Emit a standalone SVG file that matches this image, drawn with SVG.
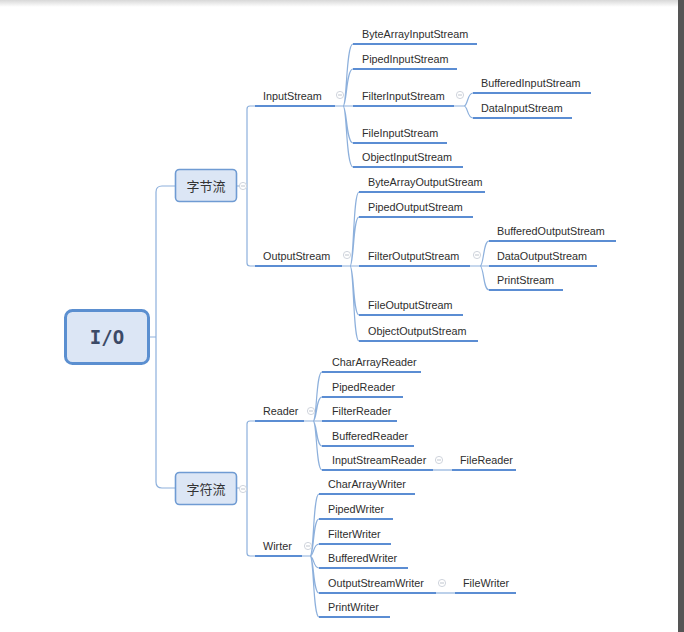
<svg xmlns="http://www.w3.org/2000/svg" width="684" height="632" viewBox="0 0 684 632">
<defs>
<linearGradient id="topShade" x1="0" y1="0" x2="0" y2="1">
<stop offset="0" stop-color="#d8d8d8"/>
<stop offset="1" stop-color="#ffffff"/>
</linearGradient>
</defs>
<style>
.c{fill:none;stroke:#8db0dc;stroke-width:1.2}
.u{stroke:#5b8dd3;stroke-width:2.2;stroke-linecap:butt}
.t{font-family:"Liberation Sans",Arial,sans-serif;font-size:10.8px;fill:#2e2e2e}
.cn{font-family:"Noto Sans CJK SC","Noto Sans",sans-serif;font-size:13px;fill:#333333;text-anchor:middle}
.box{fill:#dce6f5;stroke:#6f9bd3;stroke-width:1.6}
.tog{fill:#ffffff;stroke:#c9cfd8;stroke-width:0.9}
.tm{stroke:#b8bec8;stroke-width:0.9}
</style>
<rect width="684" height="632" fill="#ffffff"/>
<rect width="684" height="7" fill="url(#topShade)"/>
<rect x="678" y="0" width="6" height="632" fill="#555555"/>

<g id="connectors">
<path class="c" d="M149 337 H156 M175 186 H162 Q156 186 156 192 V482 Q156 488 162 488 H175"/>
<path class="c" d="M237 186 H247 M255 106 H250 Q247 106 247 109 V263 Q247 266 250 266 H255"/>
<path class="c" d="M237 488 H247 M255 421 H250 Q247 421 247 424 V553 Q247 556 250 556 H255"/>
<path class="c" d="M335 106 H343 M343 106 C347 106 346 44 353 44 M343 106 C347 106 346 69 353 69 M343 106 H353 M343 106 C347 106 346 143 353 143 M343 106 C347 106 346 167 353 167"/>
<path class="c" d="M454 106 H464 M464 106 C468 106 467 93 473 93 M464 106 C468 106 467 118 473 118"/>
<path class="c" d="M342 266 H350 M350 266 C354 266 353 192 359 192 M350 266 C354 266 353 217 359 217 M350 266 H359 M350 266 C354 266 353 315 359 315 M350 266 C354 266 353 341 359 341"/>
<path class="c" d="M470 266 H480 M480 266 C484 266 483 241 489 241 M480 266 H489 M480 266 C484 266 483 290 489 290"/>
<path class="c" d="M304 421 H313 M313 421 C317 421 316 372 322 372 M313 421 C317 421 316 397 322 397 M313 421 H322 M313 421 C317 421 316 446 322 446 M313 421 C317 421 316 470 322 470"/>
<path class="c" d="M433 470 H452"/>
<path class="c" d="M302 556 H310 M310 556 C314 556 313 494 319 494 M310 556 C314 556 313 519 319 519 M310 556 C314 556 313 544 319 544 M310 556 C314 556 313 568 319 568 M310 556 C314 556 313 593 319 593 M310 556 C314 556 313 617 319 617"/>
<path class="c" d="M436 593 H455"/>
</g>

<g id="n-io">
<rect x="65.5" y="310.5" width="83" height="53" rx="7" fill="#dce6f5" stroke="#5b8fd0" stroke-width="3"/>
<text x="107" y="344" text-anchor="middle" font-family="DejaVu Sans Mono,monospace" font-weight="bold" font-size="19" fill="#3b4a66">I/O</text>
</g>

<g id="n-byte">
<rect class="box" x="175.5" y="169.5" width="61" height="32" rx="4"/>
<text class="cn" x="206" y="191">字节流</text>
</g>
<g id="n-char">
<rect class="box" x="175.5" y="472.5" width="61" height="32" rx="4"/>
<text class="cn" x="206" y="494">字符流</text>
</g>

<g id="toggles">
<circle class="tog" cx="243" cy="186" r="3.6"/><line class="tm" x1="241" y1="186" x2="245" y2="186"/>
<circle class="tog" cx="243" cy="489" r="3.6"/><line class="tm" x1="241" y1="489" x2="245" y2="489"/>
<circle class="tog" cx="340" cy="95" r="3.6"/><line class="tm" x1="338" y1="95" x2="342" y2="95"/>
<circle class="tog" cx="460" cy="95" r="3.6"/><line class="tm" x1="458" y1="95" x2="462" y2="95"/>
<circle class="tog" cx="347" cy="255" r="3.6"/><line class="tm" x1="345" y1="255" x2="349" y2="255"/>
<circle class="tog" cx="477" cy="255" r="3.6"/><line class="tm" x1="475" y1="255" x2="479" y2="255"/>
<circle class="tog" cx="311" cy="411" r="3.6"/><line class="tm" x1="309" y1="411" x2="313" y2="411"/>
<circle class="tog" cx="439" cy="460" r="3.6"/><line class="tm" x1="437" y1="460" x2="441" y2="460"/>
<circle class="tog" cx="308" cy="546" r="3.6"/><line class="tm" x1="306" y1="546" x2="310" y2="546"/>
<circle class="tog" cx="442" cy="583" r="3.6"/><line class="tm" x1="440" y1="583" x2="444" y2="583"/>
</g>

<g id="n-inputstream"><line class="u" x1="255" y1="106" x2="335" y2="106"/><text class="t" x="263" y="100">InputStream</text></g>
<g id="n-bytearrayinputstream"><line class="u" x1="353" y1="44" x2="477" y2="44"/><text class="t" x="362" y="38">ByteArrayInputStream</text></g>
<g id="n-pipedinputstream"><line class="u" x1="353" y1="69" x2="457" y2="69"/><text class="t" x="362" y="63">PipedInputStream</text></g>
<g id="n-filterinputstream"><line class="u" x1="353" y1="106" x2="454" y2="106"/><text class="t" x="362" y="100">FilterInputStream</text></g>
<g id="n-fileinputstream"><line class="u" x1="353" y1="143" x2="447" y2="143"/><text class="t" x="362" y="137">FileInputStream</text></g>
<g id="n-objectinputstream"><line class="u" x1="353" y1="167" x2="463" y2="167"/><text class="t" x="362" y="161">ObjectInputStream</text></g>
<g id="n-bufferedinputstream"><line class="u" x1="473" y1="93" x2="591" y2="93"/><text class="t" x="481" y="87">BufferedInputStream</text></g>
<g id="n-datainputstream"><line class="u" x1="473" y1="118" x2="572" y2="118"/><text class="t" x="481" y="112">DataInputStream</text></g>

<g id="n-outputstream"><line class="u" x1="255" y1="266" x2="342" y2="266"/><text class="t" x="263" y="260">OutputStream</text></g>
<g id="n-bytearrayoutputstream"><line class="u" x1="359" y1="192" x2="485" y2="192"/><text class="t" x="368" y="186">ByteArrayOutputStream</text></g>
<g id="n-pipedoutputstream"><line class="u" x1="359" y1="217" x2="473" y2="217"/><text class="t" x="368" y="211">PipedOutputStream</text></g>
<g id="n-filteroutputstream"><line class="u" x1="359" y1="266" x2="470" y2="266"/><text class="t" x="368" y="260">FilterOutputStream</text></g>
<g id="n-fileoutputstream"><line class="u" x1="359" y1="315" x2="463" y2="315"/><text class="t" x="368" y="309">FileOutputStream</text></g>
<g id="n-objectoutputstream"><line class="u" x1="359" y1="341" x2="478" y2="341"/><text class="t" x="368" y="335">ObjectOutputStream</text></g>
<g id="n-bufferedoutputstream"><line class="u" x1="489" y1="241" x2="616" y2="241"/><text class="t" x="497" y="235">BufferedOutputStream</text></g>
<g id="n-dataoutputstream"><line class="u" x1="489" y1="266" x2="597" y2="266"/><text class="t" x="497" y="260">DataOutputStream</text></g>
<g id="n-printstream"><line class="u" x1="489" y1="290" x2="563" y2="290"/><text class="t" x="497" y="284">PrintStream</text></g>

<g id="n-reader"><line class="u" x1="255" y1="421" x2="304" y2="421"/><text class="t" x="263" y="415">Reader</text></g>
<g id="n-chararrayreader"><line class="u" x1="322" y1="372" x2="421" y2="372"/><text class="t" x="332" y="366">CharArrayReader</text></g>
<g id="n-pipedreader"><line class="u" x1="322" y1="397" x2="403" y2="397"/><text class="t" x="332" y="391">PipedReader</text></g>
<g id="n-filterreader"><line class="u" x1="322" y1="421" x2="397" y2="421"/><text class="t" x="332" y="415">FilterReader</text></g>
<g id="n-bufferedreader"><line class="u" x1="322" y1="446" x2="414" y2="446"/><text class="t" x="332" y="440">BufferedReader</text></g>
<g id="n-inputstreamreader"><line class="u" x1="322" y1="470" x2="433" y2="470"/><text class="t" x="332" y="464">InputStreamReader</text></g>
<g id="n-filereader"><line class="u" x1="452" y1="470" x2="516" y2="470"/><text class="t" x="460" y="464">FileReader</text></g>

<g id="n-writer"><line class="u" x1="255" y1="556" x2="302" y2="556"/><text class="t" x="263" y="550">Wirter</text></g>
<g id="n-chararraywriter"><line class="u" x1="319" y1="494" x2="415" y2="494"/><text class="t" x="328" y="488">CharArrayWriter</text></g>
<g id="n-pipedwriter"><line class="u" x1="319" y1="519" x2="393" y2="519"/><text class="t" x="328" y="513">PipedWriter</text></g>
<g id="n-filterwriter"><line class="u" x1="319" y1="544" x2="391" y2="544"/><text class="t" x="328" y="538">FilterWriter</text></g>
<g id="n-bufferedwriter"><line class="u" x1="319" y1="568" x2="408" y2="568"/><text class="t" x="328" y="562">BufferedWriter</text></g>
<g id="n-outputstreamwriter"><line class="u" x1="319" y1="593" x2="436" y2="593"/><text class="t" x="328" y="587">OutputStreamWriter</text></g>
<g id="n-filewriter"><line class="u" x1="455" y1="593" x2="516" y2="593"/><text class="t" x="463" y="587">FileWriter</text></g>
<g id="n-printwriter"><line class="u" x1="319" y1="617" x2="390" y2="617"/><text class="t" x="328" y="611">PrintWriter</text></g>
</svg>
